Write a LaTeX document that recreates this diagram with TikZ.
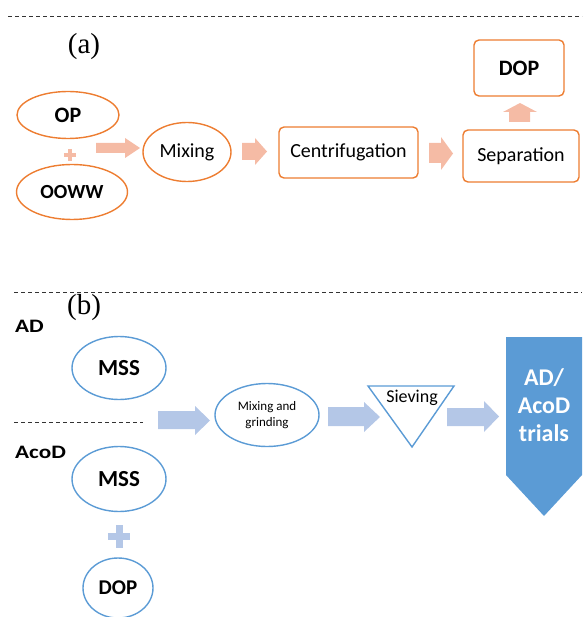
\documentclass[tikz,border=0pt]{standalone}
\usepackage{fontspec}
\setmainfont{Carlito}
\newfontfamily\serifa{Liberation Serif}
\newfontfamily\wideb[FakeStretch=1.22]{Carlito}
\usetikzlibrary{shapes.geometric}
\definecolor{orng}{HTML}{ED7D31}
\definecolor{lorng}{HTML}{F5BBA5}
\definecolor{blu}{HTML}{5B9BD5}
\definecolor{lblu}{HTML}{B4C7E7}
\begin{document}
\begin{tikzpicture}[x=1pt,y=-1pt,
  oell/.style={ellipse,draw=orng,line width=1.4pt,inner sep=0pt},
  obox/.style={rectangle,rounded corners=5pt,draw=orng,line width=1.4pt,inner sep=0pt},
  bell/.style={ellipse,draw=blu,line width=1.4pt,inner sep=0pt},
  lbl/.style={font=\fontsize{20}{22}\selectfont},
  blbl/.style={font=\fontsize{#1}{22}\selectfont\bfseries},
  sidelbl/.style={font=\wideb\fontsize{19}{20}\selectfont\bfseries,anchor=west,inner sep=0pt},
  sep/.style={draw=black!80,line width=0.9pt,dash pattern=on 4pt off 3pt},
  plusmark/.style={inner sep=0pt,minimum size=#1},
  oarrow/.style={fill=lorng},
  barrow/.style={fill=lblu}]
\useasboundingbox (0,0) rectangle (582,617);
% ---------- (a) ----------
\draw[sep] (8,16) -- (582,16);
\node[font=\serifa\fontsize{29}{30}\selectfont] (la) at (84,47) {(a)};
\node[oell,minimum width=102pt,minimum height=47pt,blbl=22] (op) at (68,115) {OP};
\node[plusmark=12pt] (pa) at (70,155) {};
\draw[lorng,line width=4pt] (pa.north) -- (pa.south) (pa.west) -- (pa.east);
\node[oell,minimum width=111pt,minimum height=55pt,blbl=20] (ooww) at (72,192) {OOWW};
\node[oell,minimum width=88pt,minimum height=59pt,lbl] (mix) at (187,152) {Mixing};
\node[obox,minimum width=139pt,minimum height=51pt,lbl] (cent) at (348.5,152.5) {Centrifugation};
\node[obox,minimum width=116pt,minimum height=52pt,lbl] (sepn) at (521,156) {Separation};
\node[obox,minimum width=90pt,minimum height=56pt,blbl=22] (dop) at (519,68) {DOP};
\fill[oarrow] (96,143) -- (125,143) -- (125,138) -- (140,148) -- (125,158) -- (125,153) -- (96,153) -- cycle;
\fill[oarrow] (242,143) -- (255,143) -- (255,138) -- (267,151.5) -- (255,165) -- (255,160) -- (242,160) -- cycle;
\fill[oarrow] (429,143) -- (441,143) -- (441,137) -- (453,153.5) -- (441,170) -- (441,163) -- (429,163) -- cycle;
\fill[oarrow] (509,122) -- (509,112) -- (503,112) -- (520,103) -- (537,112) -- (530,112) -- (530,122) -- cycle;
% ---------- (b) ----------
\draw[sep] (14,292) -- (582,292);
\node[font=\serifa\fontsize{29}{30}\selectfont] (lb) at (84,308) {(b)};
\node[sidelbl] (ad) at (15,326) {AD};
\node[bell,minimum width=94pt,minimum height=63pt,blbl=23] (mss1) at (119,368) {MSS};
\draw[sep] (14,422) -- (143,422);
\node[sidelbl] (acod) at (15,452) {AcoD};
\node[bell,minimum width=94pt,minimum height=65pt,blbl=23] (mss2) at (119,479) {MSS};
\node[plusmark=22pt] (pb) at (119,536.5) {};
\draw[lblu,line width=7pt] (pb.north) -- (pb.south) (pb.west) -- (pb.east);
\node[bell,minimum width=70pt,minimum height=60pt,blbl=21] (dopb) at (118,588) {DOP};
\fill[barrow] (158,411) -- (195,411) -- (195,406) -- (210,420.5) -- (195,435) -- (195,429) -- (158,429) -- cycle;
\node[bell,minimum width=104pt,minimum height=63pt,align=center,font=\fontsize{13}{16}\selectfont] (mg) at (267,415) {Mixing and\\grinding};
\fill[barrow] (328,407) -- (364,407) -- (364,402) -- (380,417) -- (364,432) -- (364,426) -- (328,426) -- cycle;
\coordinate (t1) at (368,386);
\coordinate (t2) at (454,386);
\coordinate (t3) at (412,447);
\draw[draw=blu,line width=1.4pt,line join=miter] (t1) -- (t2) -- (t3) -- cycle;
\node[font=\fontsize{18}{20}\selectfont] (siev) at (412,398) {Sieving};
\fill[barrow] (447,408) -- (484,408) -- (484,401) -- (499,416.5) -- (484,432) -- (484,426) -- (447,426) -- cycle;
\fill[blu] (506,337) -- (582,337) -- (582,475) -- (544,516) -- (506,475) -- cycle;
\node[text=white,align=center,font=\fontsize{24}{28}\selectfont\bfseries] (trials) at (544,405) {AD/\\AcoD\\trials};
\end{tikzpicture}
\end{document}
